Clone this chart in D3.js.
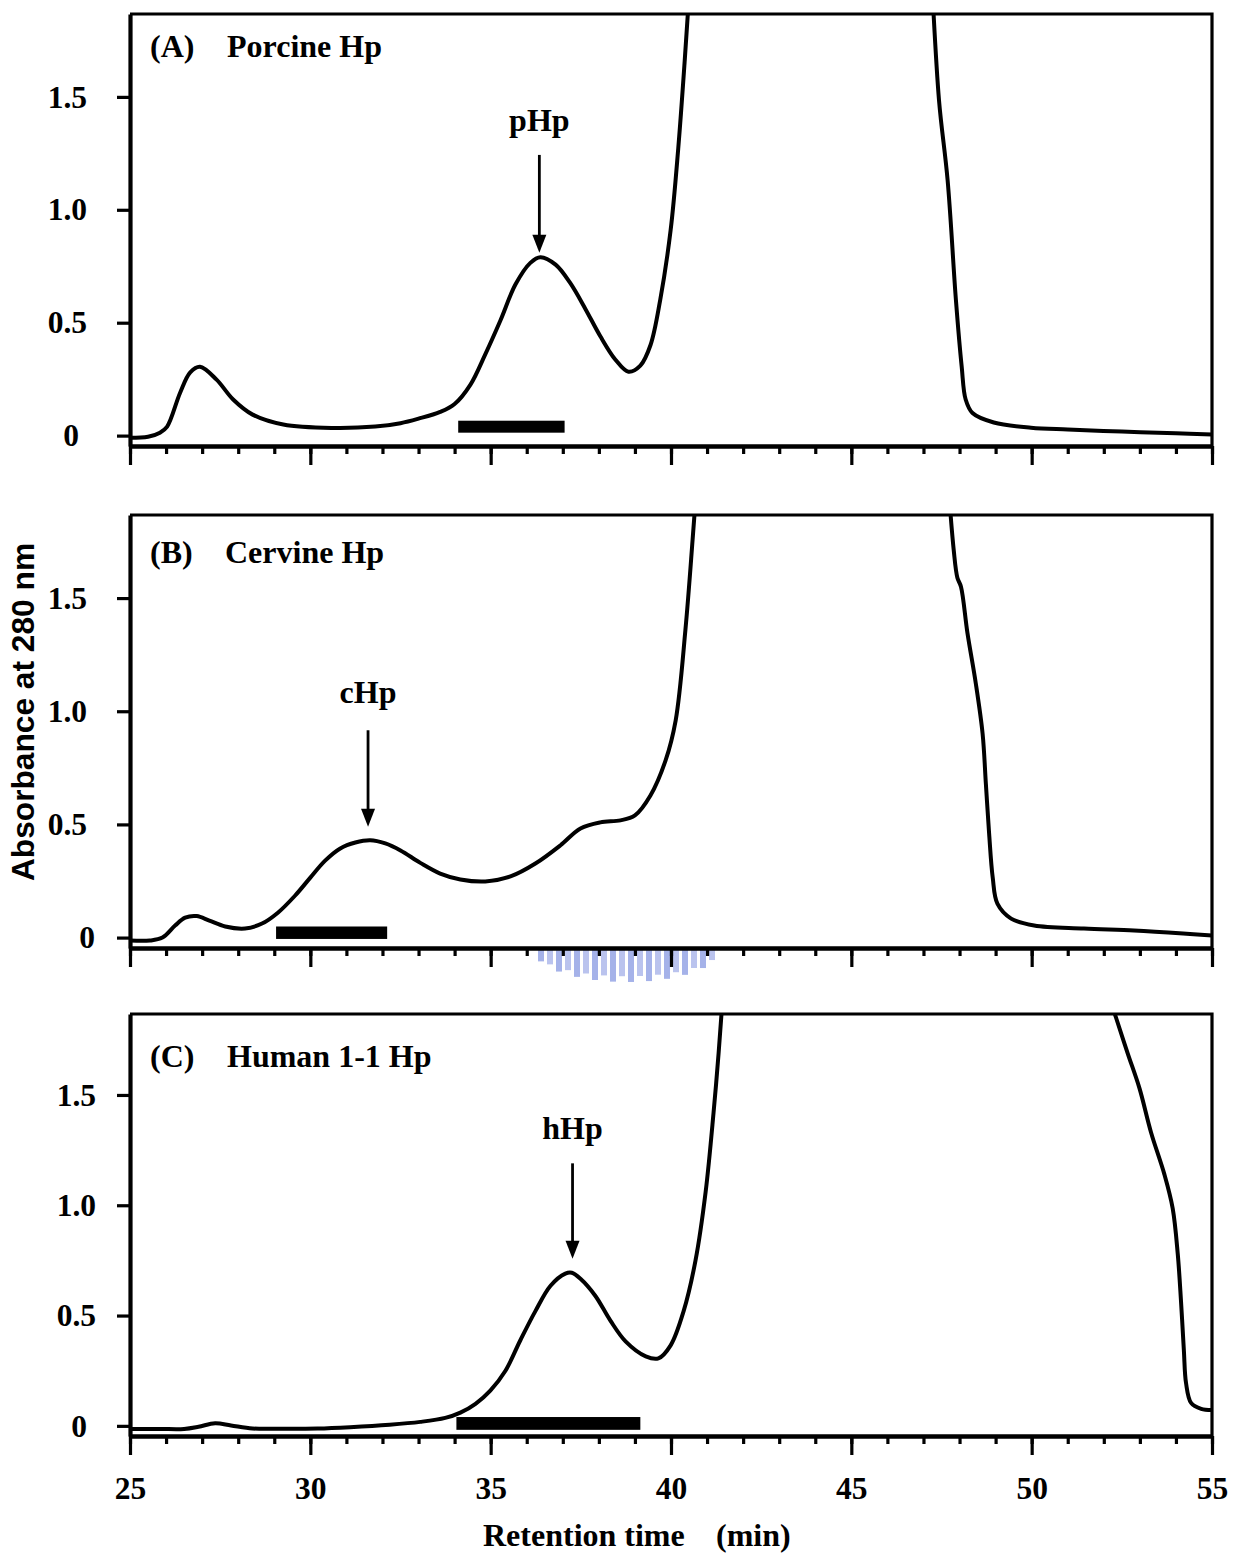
<!DOCTYPE html>
<html><head><meta charset="utf-8">
<script src="https://cdn.jsdelivr.net/npm/d3@7"></script>
<style>body{margin:0;background:#fff}</style>
</head><body><svg id="c" width="1237" height="1556"></svg>
<script>
// ---------------- data ----------------
const panelIds = ["(A)", "(B)", "(C)"];
const panelNames = ["Porcine Hp", "Cervine Hp", "Human 1-1 Hp"];
const peakLabels = ["pHp", "cHp", "hHp"];
const yTicks = [0, 0.5, 1.0, 1.5];
const yTickLabels = ["0", "0.5", "1.0", "1.5"];
const xMajorTicks = [25, 30, 35, 40, 45, 50, 55];
const xMinorTicks = d3.range(25, 56, 1);
const xTitle = ["Retention time", "(min)"];
const yTitle = "Absorbance at 280 nm";

// (A) Porcine Hp  (values above ~1.87 are off-scale, estimated)
const timeA = [25, 25.5, 25.83, 26.03, 26.39, 26.67, 26.94, 27.4, 27.86, 28.4, 29.25, 30.6, 31.8, 32.5, 33.0, 33.6, 34.0, 34.44, 34.85, 35.27, 35.69, 36.1, 36.38, 36.8, 37.2, 37.63, 38.04, 38.46, 38.82, 39.15, 39.43, 39.7, 39.99, 40.2, 40.38, 40.6, 40.75, 47.05, 47.2, 47.43, 47.67, 47.9, 48.06, 48.17, 48.36, 48.95, 49.98, 51.0, 52.5, 54.0, 55.0];
const absA  = [-0.01, -0.005, 0.013, 0.04, 0.19, 0.28, 0.305, 0.248, 0.16, 0.093, 0.049, 0.034, 0.04, 0.055, 0.075, 0.105, 0.14, 0.226, 0.36, 0.51, 0.67, 0.765, 0.79, 0.757, 0.677, 0.56, 0.44, 0.336, 0.283, 0.31, 0.40, 0.60, 0.91, 1.27, 1.66, 2.2, 2.6, 2.5, 2.1, 1.487, 1.13, 0.60, 0.305, 0.16, 0.10, 0.058, 0.035, 0.027, 0.018, 0.01, 0.005];

// (B) Cervine Hp
const timeB = [25, 25.55, 25.9, 26.25, 26.53, 26.85, 27.2, 27.64, 28.19, 28.66, 29.1, 29.58, 30.0, 30.41, 30.83, 31.25, 31.66, 32.08, 32.5, 33.05, 33.6, 34.16, 34.85, 35.55, 36.24, 36.93, 37.49, 38.04, 38.6, 39.0, 39.43, 39.85, 40.13, 40.4, 40.6, 40.8, 40.95, 47.45, 47.6, 47.84, 47.94, 48.04, 48.22, 48.45, 48.64, 48.73, 48.82, 48.92, 49.05, 49.43, 50.07, 51.45, 52.84, 54.2, 55];
const absB  = [-0.013, -0.013, 0, 0.053, 0.088, 0.095, 0.075, 0.049, 0.04, 0.062, 0.11, 0.186, 0.265, 0.34, 0.394, 0.42, 0.43, 0.416, 0.385, 0.33, 0.283, 0.257, 0.248, 0.27, 0.327, 0.407, 0.482, 0.509, 0.518, 0.54, 0.628, 0.783, 0.96, 1.36, 1.76, 2.2, 2.6, 2.6, 2.2, 1.71, 1.59, 1.55, 1.345, 1.124, 0.90, 0.68, 0.46, 0.265, 0.15, 0.084, 0.053, 0.04, 0.031, 0.018, 0.009];

// (C) Human 1-1 Hp
const timeC = [25, 25.83, 26.5, 26.9, 27.36, 27.8, 28.4, 29.2, 30.2, 31.1, 32.2, 33.05, 33.74, 34.16, 34.58, 34.99, 35.41, 35.82, 36.24, 36.66, 37.07, 37.25, 37.49, 37.9, 38.32, 38.74, 39.3, 39.65, 39.99, 40.35, 40.68, 40.96, 41.18, 41.32, 41.5, 41.65, 51.7, 52.0, 52.34, 52.66, 52.99, 53.31, 53.68, 53.91, 54.05, 54.14, 54.22, 54.28, 54.42, 54.7, 55];
const absC  = [-0.014, -0.014, -0.014, -0.004, 0.012, 0.002, -0.012, -0.013, -0.012, -0.006, 0.005, 0.018, 0.036, 0.06, 0.1, 0.16, 0.25, 0.387, 0.52, 0.635, 0.69, 0.694, 0.667, 0.59, 0.477, 0.383, 0.315, 0.306, 0.365, 0.52, 0.75, 1.06, 1.42, 1.69, 2.1, 2.5, 2.17, 2.02, 1.85, 1.69, 1.53, 1.33, 1.14, 0.986, 0.78, 0.567, 0.342, 0.194, 0.104, 0.077, 0.072];

const seriesTime = [timeA, timeB, timeC];
const seriesAbs = [absA, absB, absC];

// collected fraction bars (min) and their vertical extent (absorbance units)
const fracStart = [34.1, 29.05, 34.05];
const fracEnd = [37.05, 32.13, 39.15];
const fracLow = [0.013, -0.006, -0.018];
const fracHigh = [0.066, 0.049, 0.04];

// peak arrows
const arrowTime = [36.35, 31.6, 37.27];
const arrowTip = [0.81, 0.49, 0.757];
const arrowTail = [1.243, 0.916, 1.19];
const arrowLabel = [1.35, 1.035, 1.30];

// ---------------- layout ----------------
const X0 = 130, X1 = 1212;
const panelTop = [14, 515, 1014];
const panelBottom = [446, 948, 1436];
const titleOffset = [43, 48, 53];
const yLabelEnd = [87, 87, 96];
const yZeroEnd = [79, 95, 87];
const Y_DOMAIN = [-0.046, 1.867];
const serif = "'Liberation Serif','Times New Roman',serif";
const sans = "'Liberation Sans',Arial,sans-serif";

const svg = d3.select("#c");
svg.append("rect").attr("width", 1237).attr("height", 1556).attr("fill", "#fff");
const defs = svg.append("defs");
const x = d3.scaleLinear().domain([25, 55]).range([X0, X1]);

// faint watermark fragment under panel B axis
(function () {
  const wm = svg.append("g").attr("opacity", 0.8);
  const cx = 627, w = 92, h = 32, top = 950;
  for (let px = cx - w + 6; px <= cx + w - 6; px += 9) {
    const f = Math.sqrt(Math.max(0, 1 - Math.pow((px - cx) / w, 2)));
    const k = Math.round((px - cx) / 9);
    wm.append("rect").attr("x", px - 3).attr("y", top)
      .attr("width", 6).attr("height", h * f * (k % 2 === 0 ? 1 : 0.82))
      .attr("fill", k % 2 === 0 ? "#8fa0e4" : "#a9b5ea");
  }
})();

for (let i = 0; i < 3; i++) {
  const y = d3.scaleLinear().domain(Y_DOMAIN).range([panelBottom[i], panelTop[i]]);
  const g = svg.append("g");
  const cid = "clip" + i;
  defs.append("clipPath").attr("id", cid).append("rect")
    .attr("x", X0).attr("y", panelTop[i]).attr("width", X1 - X0).attr("height", panelBottom[i] - panelTop[i]);

  // trace
  const line = d3.line().x(d => x(d[0])).y(d => y(d[1])).curve(d3.curveCatmullRom.alpha(0.5));
  g.append("path").datum(d3.zip(seriesTime[i], seriesAbs[i]))
    .attr("d", line).attr("fill", "none").attr("stroke", "#000")
    .attr("stroke-width", 4).attr("stroke-linejoin", "round")
    .attr("clip-path", `url(#${cid})`);

  // fraction bar
  g.append("rect")
    .attr("x", x(fracStart[i])).attr("width", x(fracEnd[i]) - x(fracStart[i]))
    .attr("y", y(fracHigh[i])).attr("height", y(fracLow[i]) - y(fracHigh[i]))
    .attr("fill", "#000");

  // frame (top + right)
  g.append("path")
    .attr("d", `M${X0},${panelTop[i]}H${X1}V${panelBottom[i]}`)
    .attr("fill", "none").attr("stroke", "#000").attr("stroke-width", 3.2);

  // x axis: minor and major ticks
  const minorAx = d3.axisBottom(x).tickValues(xMinorTicks).tickSize(8).tickSizeOuter(0).tickFormat("");
  const gm = g.append("g").attr("transform", `translate(0,${panelBottom[i]})`).call(minorAx);
  const majorAx = d3.axisBottom(x).tickValues(xMajorTicks).tickSize(19).tickSizeOuter(0)
    .tickFormat(i === 2 ? d3.format("d") : "");
  const gM = g.append("g").attr("transform", `translate(0,${panelBottom[i]})`).call(majorAx);
  [gm, gM].forEach(ax => {
    ax.select(".domain").attr("stroke", "#000").attr("stroke-width", 3.8);
    ax.selectAll(".tick line").attr("stroke", "#000").attr("stroke-width", 3.2);
  });
  gM.selectAll(".tick text")
    .attr("font-family", serif).attr("font-weight", "bold").attr("font-size", 31.5)
    .attr("fill", "#000").attr("y", 63).attr("dy", 0);

  // y axis
  const yAx = d3.axisLeft(y).tickValues(yTicks).tickSize(13).tickSizeOuter(0).tickFormat("");
  const gy = g.append("g").attr("transform", `translate(${X0},0)`).call(yAx);
  gy.select(".domain").attr("stroke", "#000").attr("stroke-width", 4.2);
  gy.selectAll(".tick line").attr("stroke", "#000").attr("stroke-width", 3.2);
  g.selectAll("text.ylab").data(yTicks).join("text").attr("class", "ylab")
    .attr("x", (d, k) => k === 0 ? yZeroEnd[i] : yLabelEnd[i])
    .attr("y", d => y(d)).attr("dy", "0.34em")
    .attr("text-anchor", "end")
    .attr("font-family", serif).attr("font-weight", "bold").attr("font-size", 31.5)
    .text((d, k) => yTickLabels[k]);

  // panel title
  g.append("text").attr("x", 150).attr("y", panelTop[i] + titleOffset[i])
    .attr("font-family", serif).attr("font-weight", "bold").attr("font-size", 32)
    .text(panelIds[i]);
  g.append("text").attr("x", i === 1 ? 225 : 227).attr("y", panelTop[i] + titleOffset[i])
    .attr("font-family", serif).attr("font-weight", "bold").attr("font-size", 32)
    .text(panelNames[i]);

  // arrow + label
  const ax = x(arrowTime[i]);
  const tipY = y(arrowTip[i]);
  const headL = 18, headW = 7;
  g.append("line").attr("x1", ax).attr("x2", ax)
    .attr("y1", y(arrowTail[i])).attr("y2", tipY - headL + 2)
    .attr("stroke", "#000").attr("stroke-width", 2.8);
  g.append("path")
    .attr("d", `M${ax - headW},${tipY - headL}L${ax + headW},${tipY - headL}L${ax},${tipY}Z`)
    .attr("fill", "#000");
  g.append("text").attr("x", ax).attr("y", y(arrowLabel[i]))
    .attr("text-anchor", "middle")
    .attr("font-family", serif).attr("font-weight", "bold").attr("font-size", 32)
    .text(peakLabels[i]);
}

// axis titles
svg.append("text").attr("x", 483).attr("y", 1546)
  .attr("font-family", serif).attr("font-weight", "bold").attr("font-size", 32)
  .text(xTitle[0]);
svg.append("text").attr("x", 716).attr("y", 1546)
  .attr("font-family", serif).attr("font-weight", "bold").attr("font-size", 32)
  .text(xTitle[1]);
svg.append("text").attr("transform", "translate(34,712) rotate(-90)")
  .attr("text-anchor", "middle")
  .attr("font-family", sans).attr("font-weight", "bold").attr("font-size", 31.7)
  .text(yTitle);
</script>
</body></html>
